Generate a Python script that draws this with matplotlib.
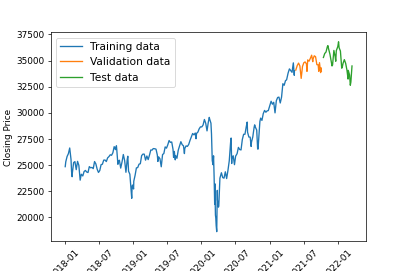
import numpy as np
import matplotlib
matplotlib.use("Agg")
import matplotlib.pyplot as plt
import matplotlib.dates as mdates

# closing prices (approximate)
train_dates = ["2018-01-02", "2018-01-05", "2018-01-12", "2018-01-19", "2018-01-26", "2018-02-02",
               "2018-02-05", "2018-02-08", "2018-02-09", "2018-02-16", "2018-02-23", "2018-03-02",
               "2018-03-09", "2018-03-16", "2018-03-23", "2018-03-29", "2018-04-06", "2018-04-13",
               "2018-04-20", "2018-04-27", "2018-05-04", "2018-05-11", "2018-05-18", "2018-05-25",
               "2018-06-01", "2018-06-08", "2018-06-15", "2018-06-22", "2018-06-29", "2018-07-06",
               "2018-07-13", "2018-07-20", "2018-07-27", "2018-08-03", "2018-08-10", "2018-08-17",
               "2018-08-24", "2018-08-31", "2018-09-07", "2018-09-14", "2018-09-21", "2018-09-28",
               "2018-10-03", "2018-10-05", "2018-10-11", "2018-10-12", "2018-10-19", "2018-10-26",
               "2018-11-02", "2018-11-09", "2018-11-16", "2018-11-23", "2018-11-30", "2018-12-03",
               "2018-12-07", "2018-12-14", "2018-12-21", "2018-12-24", "2018-12-26", "2018-12-28",
               "2019-01-03", "2019-01-04", "2019-01-11", "2019-01-18", "2019-01-25", "2019-02-01",
               "2019-02-08", "2019-02-15", "2019-02-22", "2019-03-01", "2019-03-08", "2019-03-15",
               "2019-03-22", "2019-03-29", "2019-04-05", "2019-04-12", "2019-04-18", "2019-04-26",
               "2019-05-03", "2019-05-10", "2019-05-13", "2019-05-17", "2019-05-24", "2019-05-31",
               "2019-06-07", "2019-06-14", "2019-06-21", "2019-06-28", "2019-07-05", "2019-07-12",
               "2019-07-19", "2019-07-26", "2019-08-02", "2019-08-05", "2019-08-09", "2019-08-14",
               "2019-08-16", "2019-08-23", "2019-08-30", "2019-09-06", "2019-09-13", "2019-09-20",
               "2019-09-27", "2019-10-02", "2019-10-04", "2019-10-11", "2019-10-18", "2019-10-25",
               "2019-11-01", "2019-11-08", "2019-11-15", "2019-11-22", "2019-11-29", "2019-12-03",
               "2019-12-06", "2019-12-13", "2019-12-20", "2019-12-27", "2020-01-03", "2020-01-10",
               "2020-01-17", "2020-01-24", "2020-01-31", "2020-02-07", "2020-02-12", "2020-02-14",
               "2020-02-21", "2020-02-24", "2020-02-27", "2020-02-28", "2020-03-03", "2020-03-06",
               "2020-03-09", "2020-03-12", "2020-03-13", "2020-03-16", "2020-03-18", "2020-03-20",
               "2020-03-23", "2020-03-26", "2020-03-27", "2020-04-01", "2020-04-03", "2020-04-09",
               "2020-04-17", "2020-04-24", "2020-05-01", "2020-05-08", "2020-05-15", "2020-05-22",
               "2020-05-29", "2020-06-05", "2020-06-08", "2020-06-11", "2020-06-12", "2020-06-19",
               "2020-06-26", "2020-07-02", "2020-07-10", "2020-07-17", "2020-07-24", "2020-07-31",
               "2020-08-07", "2020-08-14", "2020-08-21", "2020-08-28", "2020-09-02", "2020-09-04",
               "2020-09-11", "2020-09-18", "2020-09-23", "2020-09-25", "2020-10-02", "2020-10-09",
               "2020-10-12", "2020-10-16", "2020-10-23", "2020-10-28", "2020-10-30", "2020-11-06",
               "2020-11-09", "2020-11-13", "2020-11-20", "2020-11-27", "2020-12-04", "2020-12-11",
               "2020-12-18", "2020-12-24", "2020-12-31", "2021-01-08", "2021-01-15", "2021-01-22",
               "2021-01-29", "2021-02-05", "2021-02-12", "2021-02-19", "2021-02-26", "2021-03-05",
               "2021-03-12", "2021-03-19", "2021-03-26", "2021-04-01", "2021-04-09", "2021-04-16",
               "2021-04-23", "2021-04-30", "2021-05-07", "2021-05-12", "2021-05-13"]
train_close = [24824, 25295, 25803, 26071, 26616, 25521,
               24346, 23860, 24190, 25219, 25310, 24538,
               25336, 24946, 23533, 24103, 23933, 24360,
               24463, 24311, 24263, 24831, 24715, 24753,
               24635, 25317, 25090, 24580, 24271, 24456,
               25019, 25058, 25451, 25463, 25313, 25669,
               25790, 25965, 25917, 26155, 26744, 26458,
               26828, 26447, 25053, 25340, 25444, 24688,
               25271, 25989, 25413, 24286, 25538, 25826,
               24389, 24101, 22445, 21792, 22878, 23062,
               22686, 23433, 23996, 24706, 24737, 25064,
               25106, 25883, 26031, 26026, 25450, 25849,
               25502, 25929, 26425, 26412, 26559, 26543,
               26505, 25942, 25325, 25764, 25586, 24815,
               25984, 26090, 26719, 26600, 26922, 27332,
               27154, 27192, 26485, 25718, 26287, 25479,
               25886, 25629, 26403, 26797, 27220, 26935,
               26820, 26079, 26573, 26817, 26770, 26958,
               27347, 27681, 28005, 27876, 28051, 27503,
               28015, 28135, 28455, 28645, 28634, 28823,
               29348, 28990, 28256, 29103, 29551, 29398,
               28992, 27961, 25767, 25409, 25018, 25864,
               23851, 21200, 23186, 20189, 19899, 19174,
               18592, 22552, 21637, 20943, 21053, 23719,
               24242, 23775, 23724, 24331, 23685, 24465,
               25383, 27111, 27572, 25128, 25606, 25871,
               25016, 25827, 26075, 26672, 26470, 26428,
               27433, 27931, 27930, 28654, 29100, 28133,
               27666, 27657, 26763, 27174, 27683, 28587,
               28837, 28606, 28336, 26520, 26502, 28323,
               29158, 29480, 29263, 29910, 30218, 30046,
               30179, 30200, 30606, 31098, 30814, 30997,
               29983, 31148, 31458, 31494, 30932, 31496,
               32779, 32628, 33073, 33153, 33801, 34200,
               34043, 33875, 34778, 33587, 34021]

val_dates = ["2021-05-20", "2021-05-28", "2021-06-04", "2021-06-11", "2021-06-18", "2021-06-25",
             "2021-07-02", "2021-07-09", "2021-07-16", "2021-07-19", "2021-07-23", "2021-07-30",
             "2021-08-06", "2021-08-13", "2021-08-19", "2021-08-20", "2021-08-27", "2021-09-03",
             "2021-09-10", "2021-09-17", "2021-09-20", "2021-09-24", "2021-09-30", "2021-10-01",
             "2021-10-04"]
val_close = [34084, 34529, 34756, 34480, 33290, 34433,
             34786, 34870, 34687, 33962, 35062, 34935,
             35208, 35515, 34894, 35120, 35455, 35369,
             34608, 34584, 33970, 34798, 33844, 34326,
             34002]

test_dates = ["2021-10-15", "2021-10-22", "2021-10-29", "2021-11-05", "2021-11-08", "2021-11-12",
              "2021-11-19", "2021-11-26", "2021-11-30", "2021-12-03", "2021-12-10", "2021-12-17",
              "2021-12-20", "2021-12-23", "2021-12-31", "2022-01-04", "2022-01-07", "2022-01-14",
              "2022-01-21", "2022-01-24", "2022-01-28", "2022-02-04", "2022-02-11", "2022-02-18",
              "2022-02-24", "2022-02-25", "2022-03-04", "2022-03-08", "2022-03-11", "2022-03-17"]
test_close = [35295, 35677, 35820, 36328, 36432, 36100,
              35602, 34899, 34484, 34580, 35971, 35365,
              34932, 35951, 36338, 36799, 36232, 35912,
              34265, 34365, 34725, 35089, 34738, 34079,
              33224, 34059, 33615, 32632, 32944, 34481]

fig = plt.figure(figsize=(6.4, 4.265), dpi=63.6)
ax = plt.gca()
plt.plot(np.array(train_dates, dtype="datetime64[D]"), train_close, label="Training data")
plt.plot(np.array(val_dates, dtype="datetime64[D]"), val_close, label="Validation data")
plt.plot(np.array(test_dates, dtype="datetime64[D]"), test_close, label="Test data")
ax.xaxis.set_major_locator(mdates.MonthLocator(bymonth=[1, 7]))
ax.xaxis.set_major_formatter(mdates.DateFormatter("%Y-%m"))
plt.xticks(rotation=45)
plt.ylabel("Closing Price")
plt.legend(loc="upper left", fontsize=12)
plt.savefig("out.png", dpi=63.6)
